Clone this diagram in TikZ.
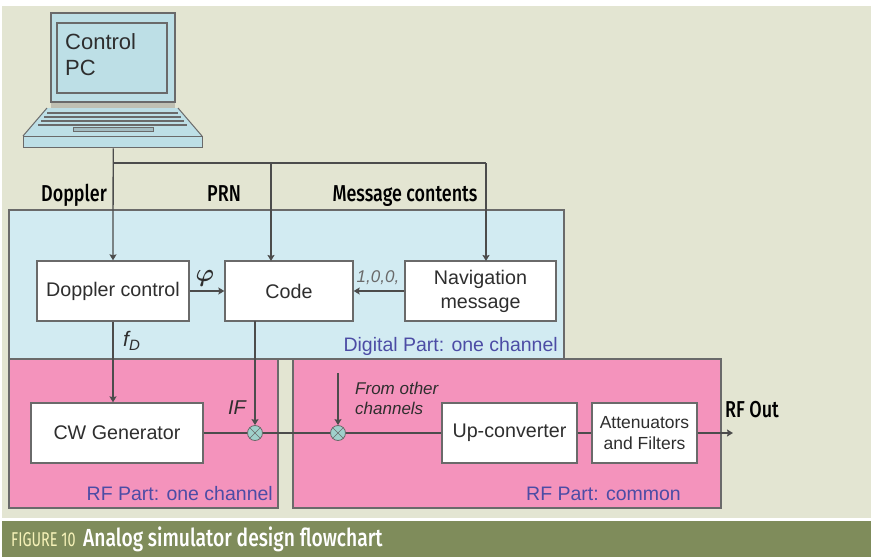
\documentclass[tikz,border=0pt]{standalone}
\usepackage{fontspec}
\setmainfont{Liberation Sans}
\newfontfamily\condfont[FakeStretch=0.78]{Fira Sans Medium}
\newfontfamily\capfont[FakeStretch=0.72]{Fira Sans}
\usetikzlibrary{arrows.meta}
\definecolor{beige}{HTML}{E3E5D2}
\definecolor{digi}{HTML}{D2EBF2}
\definecolor{rfpink}{HTML}{F493BC}
\definecolor{bar}{HTML}{7F8C5B}
\definecolor{lap}{HTML}{BDDFE6}
\definecolor{edge}{HTML}{6A6A6A}
\definecolor{partblue}{HTML}{4C4CA5}
\definecolor{mix}{HTML}{9FD0CB}
\definecolor{capyellow}{HTML}{F6F2B8}
\definecolor{ink}{HTML}{2E2E2E}
\tikzset{
  x=1pt,y=-1pt,
  region/.style={draw=edge,line width=1.5pt,anchor=north west,inner sep=0pt},
  block/.style={draw=edge,line width=1.3pt,fill=white,text=ink,align=center,inner sep=0pt,font=\fontsize{19.7}{24}\selectfont},
  link/.style={draw=black!70,line width=1.3pt},
  arrow/.style={link,-{Stealth[length=6pt,width=7pt,inset=1pt]}},
  mixer/.style={circle,draw=edge,fill=mix,line width=.8pt,minimum size=15pt,inner sep=0pt},
  partlabel/.style={text=partblue,anchor=base east,inner sep=0pt,font=\fontsize{19.5}{22}\selectfont},
  extlabel/.style={text=black,anchor=base,inner sep=0pt,font=\fontsize{23}{26}\condfont},
  smalllabel/.style={text=ink,inner sep=0pt,font=\fontsize{17}{20}\selectfont\itshape},
  laptop/.style={draw=edge,fill=lap,line width=1.4pt},
}
\begin{document}
\begin{tikzpicture}
\useasboundingbox (0,0) rectangle (871,557);
\fill[white] (0,0) rectangle (871,557);
\fill[beige] (2,6) rectangle (871,518);
\fill[bar] (2,521) rectangle (871,557);
% regions
\node[region,fill=digi,minimum width=555pt,minimum height=149pt] (digital) at (8,209) {};
\node[region,fill=rfpink,minimum width=269pt,minimum height=149pt] (rfone) at (8,358) {};
\node[region,fill=rfpink,minimum width=428pt,minimum height=149pt] (rfcommon) at (292,358) {};
% laptop
\fill[beige!70!edge] (51,103) rectangle (175,108);
\draw[laptop] (51,13) rectangle (175,102);
\draw[laptop] (57,23) rectangle (167,93);
\node[anchor=north west,inner sep=0pt,align=left,text=ink,font=\fontsize{22}{26}\selectfont] (pc) at (65,33) {Control\\PC};
\fill[lap] (47,108) -- (178,108) -- (202,136) -- (23,136) -- cycle;
\draw[edge,line width=1.4pt] (47,113) -- (178,113);
\draw[edge,line width=1.4pt] (44,117) -- (181,117);
\draw[edge,line width=1.4pt] (41,121) -- (184,121);
\draw[edge,line width=1.4pt] (38,125) -- (187,125);
\draw[edge,line width=1pt,fill=lap!70!edge] (73,127) rectangle (153,131);
\draw[edge,line width=1pt] (47,108) -- (23,136);
\draw[edge,line width=1pt] (178,108) -- (202,136);
\node[laptop,anchor=north west,minimum width=179pt,minimum height=11pt,inner sep=0pt] (base) at (23,136) {};
% blocks
\node[block,minimum width=152pt,minimum height=60pt] (doppler) at (113,291) {Doppler control};
\node[block,minimum width=128pt,minimum height=60pt] (code) at (289,291) {Code};
\node[block,minimum width=151pt,minimum height=60pt] (nav) at (480.5,291) {Navigation\\message};
\node[block,minimum width=172pt,minimum height=60pt] (cw) at (117,433) {CW Generator};
\node[block,minimum width=135pt,minimum height=60pt] (up) at (509.5,433) {Up-converter};
\node[block,minimum width=105pt,minimum height=60pt,font=\fontsize{17.5}{21}\selectfont] (att) at (644.5,433) {Attenuators\\and Filters};
\node[mixer] (mixa) at (255,433) {};
\node[mixer] (mixb) at (338,433) {};
\foreach \m in {mixa,mixb}{
  \draw[edge,line width=.6pt] (\m.45) -- (\m.225);
  \draw[edge,line width=.6pt] (\m.135) -- (\m.315);
}
% helper coordinates
\coordinate (bus) at (113,163);
\coordinate (codein) at (271,261);
\coordinate (navin) at (486,261);
\coordinate (codeout) at (255,321);
\coordinate (other) at (338,373);
\coordinate (rfout) at (733,433);
% connectors
\draw[arrow] (base.south) -- (doppler.north);
\draw[link] (bus) -- (bus -| navin);
\draw[arrow] (bus -| codein) -- (codein);
\draw[arrow] (bus -| navin) -- (navin);
\draw[arrow] (doppler.east) -- (code.west);
\draw[arrow] (nav.west) -- (code.east);
\draw[arrow] (doppler.south) -- (doppler.south |- cw.north);
\draw[arrow] (codeout) -- (mixa.north);
\draw[arrow] (other) -- (mixb.north);
\draw[link] (cw.east) -- (mixa.west);
\draw[link] (mixa.east) -- (mixb.west);
\draw[link] (mixb.east) -- (up.west);
\draw[link] (up.east) -- (att.west);
\draw[arrow] (att.east) -- (rfout);
% labels
\node[extlabel] (lbldoppler) at (74,201) {Doppler};
\node[extlabel] (lblprn) at (224,201) {PRN};
\node[extlabel] (lblmsg) at (405,201) {Message contents};
\node[extlabel,anchor=base west] (lblrf) at (725,417) {RF Out};
\node[smalllabel,anchor=base,font=\fontsize{23}{24}\selectfont\boldmath] (phi) at (205,281) {$\varphi$};
\node[smalllabel,anchor=base,text=edge] (bits) at (378,282) {1,0,0,};
\node[smalllabel,anchor=base west,font=\fontsize{21}{24}\selectfont\itshape] (fd) at (123,346) {f\raisebox{-4pt}{\fontsize{15}{15}\selectfont D}};
\node[smalllabel,anchor=base,font=\fontsize{20}{24}\selectfont\itshape] (iff) at (237,414) {IF};
\node[smalllabel,anchor=north west,align=left] (from) at (355,382) {From other\\channels};
\node[partlabel] (pd) at (558,351) {Digital Part: one channel};
\node[partlabel] (po) at (273,500) {RF Part: one channel};
\node[partlabel] (pc2) at (681,500) {RF Part: common};
\node[anchor=base west,inner sep=0pt,text=capyellow,font=\fontsize{20}{22}\capfont] (figno) at (11,546) {FIGURE 10};
\node[anchor=base west,inner sep=0pt,text=white,font=\fontsize{24.7}{26}\condfont] (cap) at (83,546) {Analog simulator design flowchart};
\end{tikzpicture}
\end{document}
